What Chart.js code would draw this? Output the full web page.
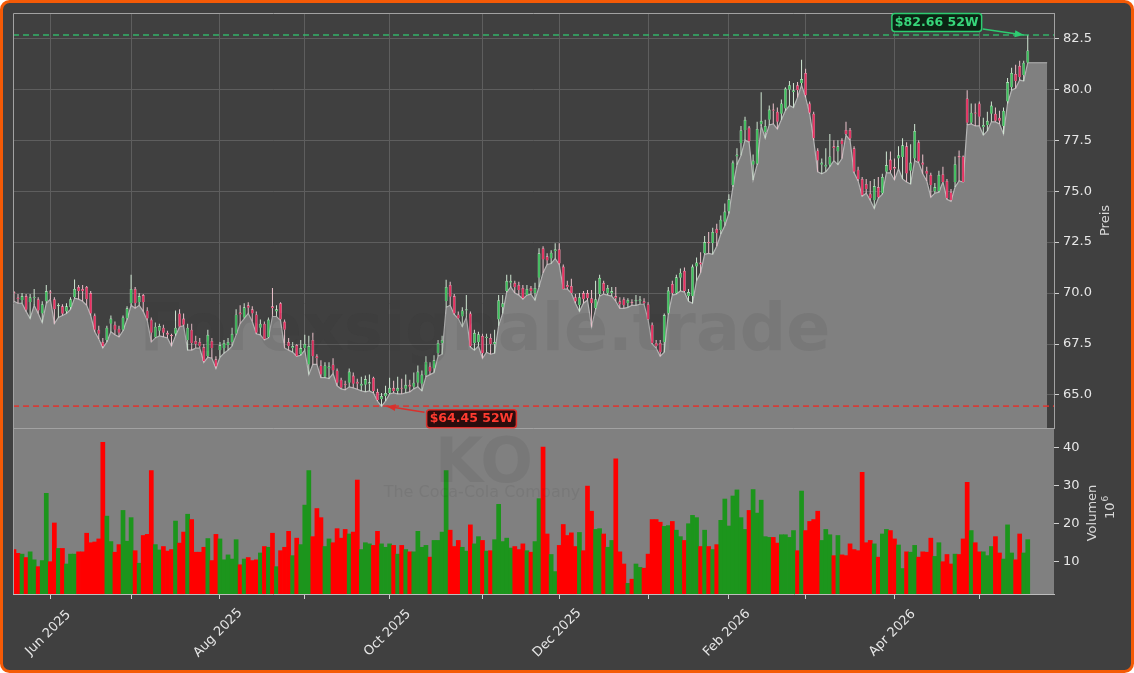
<!DOCTYPE html>
<html>
<head>
<meta charset="utf-8">
<script src="https://cdn.jsdelivr.net/npm/chart.js@4.4.1/dist/chart.umd.min.js"></script>
<style>
  html, body { margin: 0; padding: 0; background: #ffffff; }
  canvas { display: block; }
</style>
</head>
<body>
<canvas id="koChart" width="1134" height="673"></canvas>
<script>
// KO daily candles, trading-day index 0 = 19 May 2025 ... 251 = 19 May 2026
const opens = [
  70.05,69.78,69.66,69.85,69.55,69.76,69.70,69.00,69.60,70.05,69.70,69.35,69.35,69.10,69.30,69.80,70.30,70.20,70.30,70.00,
  68.90,68.20,67.60,67.70,68.50,68.45,68.25,68.20,68.75,69.50,70.20,69.55,69.90,69.15,68.70,67.85,68.15,68.30,68.05,67.90,
  68.00,69.00,68.75,67.70,68.20,67.65,67.60,67.35,66.90,67.65,66.75,67.20,67.30,67.45,67.60,68.00,69.05,68.80,69.40,69.20,
  68.95,68.30,68.50,67.85,69.35,69.10,69.50,68.60,67.60,67.30,67.45,67.00,67.30,66.50,67.70,66.90,66.45,65.90,66.30,66.50,
  66.20,65.75,65.50,65.60,65.95,65.65,65.45,65.50,65.55,65.85,65.15,64.80,64.95,65.10,65.35,65.20,65.35,65.30,65.50,65.40,
  65.60,65.55,65.98,66.40,66.30,67.05,67.55,69.60,70.40,69.85,68.95,68.85,69.15,69.00,67.55,67.60,67.90,67.80,67.80,67.50,
  68.70,69.30,70.10,70.50,70.50,70.40,70.25,69.90,70.25,70.00,70.75,72.20,71.80,71.70,72.05,72.15,71.30,70.40,70.35,69.80,
  69.42,70.00,70.00,69.75,69.25,69.95,70.50,70.00,70.00,69.85,69.60,69.70,69.50,69.55,69.60,69.60,69.60,69.45,68.45,67.55,
  67.55,67.60,69.00,70.45,70.00,70.75,71.10,69.85,69.85,71.30,71.50,71.95,72.50,72.45,73.15,73.10,73.50,74.00,75.30,76.70,
  77.35,78.00,78.12,76.30,76.35,78.30,77.90,78.50,79.00,78.90,78.80,79.05,79.98,79.85,80.20,80.30,80.80,79.30,78.80,77.00,
  76.30,76.20,76.30,77.20,76.95,77.50,78.00,78.00,77.10,76.05,75.60,75.35,74.88,74.55,75.20,74.90,75.95,76.55,76.18,76.60,
  76.68,77.20,76.00,76.60,77.40,76.40,76.00,75.80,75.00,75.00,75.83,75.50,74.95,75.45,76.72,76.70,79.55,78.35,78.85,79.30,
  78.15,78.25,78.80,78.80,78.60,78.20,79.40,80.10,80.75,81.15,80.70,81.30
];
const highs = [
  70.10,69.95,70.00,69.95,69.95,70.20,69.80,69.60,70.40,70.15,69.80,69.50,69.45,69.50,69.80,70.67,70.40,70.40,70.35,70.10,
  69.00,68.40,67.80,68.40,68.90,68.60,68.40,68.90,69.35,70.90,70.30,70.00,69.95,69.30,68.80,68.55,68.50,68.45,68.15,68.00,
  69.15,69.20,69.00,68.50,68.50,67.90,67.80,67.50,68.20,67.80,66.90,67.60,67.70,67.80,68.30,69.20,69.40,69.50,69.55,69.35,
  69.10,68.70,68.60,68.80,70.25,69.40,69.55,68.70,67.80,67.60,67.50,67.70,67.95,67.90,68.05,67.00,66.70,66.60,66.60,66.80,
  66.30,65.85,65.70,66.30,66.10,65.80,65.90,65.95,66.00,65.90,65.30,65.10,65.45,65.85,65.70,65.90,65.80,66.00,65.75,66.10,
  66.45,66.20,66.90,66.60,66.95,67.70,67.90,70.65,70.55,69.95,69.10,69.30,69.90,69.10,68.20,68.10,68.00,68.00,68.00,68.20,
  69.90,69.90,70.90,70.90,70.60,70.55,70.40,70.40,70.35,70.50,72.20,72.30,71.95,72.10,72.45,72.45,71.40,70.60,70.70,69.95,
  70.00,70.10,70.15,70.15,70.60,70.90,70.60,70.40,70.30,70.30,69.80,69.80,69.75,69.70,69.90,69.85,69.75,69.55,68.55,67.70,
  67.70,69.00,70.30,70.60,70.90,71.20,71.25,70.20,71.40,71.75,72.00,72.80,73.00,73.20,73.40,73.80,74.40,74.85,76.50,77.10,
  78.20,78.65,78.20,76.80,78.40,79.85,78.50,79.20,79.30,79.10,79.50,80.10,80.40,80.30,80.35,81.45,81.00,79.40,78.90,77.10,
  76.60,77.10,77.80,77.50,77.50,77.60,78.40,78.10,77.20,76.20,75.70,75.60,75.50,75.60,75.70,75.85,76.95,76.95,76.60,77.20,
  77.60,77.40,77.30,78.30,77.50,76.80,76.20,75.90,75.40,76.00,76.20,75.60,75.10,76.70,77.00,76.75,79.95,79.30,79.30,79.40,
  78.60,78.90,79.40,79.10,78.95,79.10,80.55,81.05,81.20,81.40,81.40,82.66
];
const lows = [
  69.60,69.50,69.50,69.10,68.75,69.40,69.00,68.55,69.50,69.70,68.50,68.80,68.90,69.00,69.20,69.75,69.70,69.60,69.40,68.90,
  68.10,67.75,67.30,67.60,68.10,67.95,67.85,68.15,68.70,69.40,69.25,69.40,69.10,68.65,67.60,67.80,67.90,67.85,67.80,67.40,
  67.90,68.35,68.40,67.20,67.20,67.30,67.30,66.60,66.85,66.80,66.30,66.85,67.05,67.20,67.40,67.95,68.50,68.75,69.00,68.60,
  68.00,67.95,67.70,67.80,68.85,68.85,68.65,67.30,67.20,67.10,66.90,66.95,67.20,66.00,66.50,66.50,65.85,65.85,65.80,66.05,
  65.45,65.30,65.25,65.40,65.35,65.28,65.20,65.15,65.20,65.10,64.70,64.45,64.70,65.05,65.10,65.05,65.05,65.10,65.15,65.30,
  65.40,65.20,65.90,66.00,66.10,66.90,67.00,69.30,69.40,68.95,68.75,68.35,68.80,67.35,67.20,67.40,66.80,67.10,67.00,67.05,
  68.40,69.00,70.05,70.30,70.00,69.90,69.70,69.90,69.95,69.65,70.30,71.00,71.40,71.45,71.70,71.40,70.20,70.20,70.00,69.50,
  69.10,69.50,69.65,68.35,69.20,69.85,69.95,69.90,69.85,69.60,69.25,69.25,69.30,69.40,69.40,69.45,69.45,68.68,67.50,67.30,
  66.90,67.10,68.95,69.90,69.95,70.10,70.05,69.60,69.50,70.60,71.00,71.90,71.95,71.90,72.30,72.90,73.30,73.90,75.20,76.30,
  76.75,77.50,77.40,75.55,76.30,78.20,77.60,78.25,78.30,78.05,78.50,78.95,79.20,79.10,79.60,80.20,79.60,78.80,77.50,75.95,
  75.85,75.95,76.20,76.50,76.30,76.60,77.75,77.50,75.90,75.50,74.75,74.90,74.55,74.15,74.65,74.85,75.90,75.90,75.55,76.10,
  75.60,75.45,75.35,76.50,76.40,75.85,75.50,74.70,74.90,74.95,75.45,74.60,74.50,75.20,75.50,75.45,78.25,78.30,78.20,78.20,
  77.75,77.95,78.40,78.40,78.30,77.80,79.30,79.95,80.05,80.45,80.40,81.30
];
const closes = [
  69.98,69.70,69.85,69.18,69.80,69.80,69.15,69.45,70.10,70.02,69.20,69.38,68.98,69.35,69.70,70.20,70.10,70.10,69.70,69.00,
  68.20,68.00,67.40,68.30,68.75,68.20,68.05,68.80,69.25,70.20,69.50,69.85,69.55,68.75,68.05,68.35,68.38,68.05,67.95,67.88,
  68.30,68.35,68.45,68.30,67.55,67.50,67.40,66.65,67.95,67.30,66.40,67.45,67.55,67.60,68.00,68.95,68.95,69.30,69.28,69.00,
  68.05,68.50,67.75,68.70,69.25,69.20,68.70,68.20,67.40,67.40,66.90,67.30,67.50,67.40,66.90,66.80,66.00,66.45,66.40,66.20,
  65.60,65.35,65.48,66.15,65.55,65.55,65.55,65.78,65.62,65.20,64.75,64.95,65.10,65.35,65.20,65.35,65.30,65.50,65.40,65.60,
  66.15,66.00,66.63,66.15,66.70,67.55,67.70,70.30,69.82,69.00,68.75,69.15,69.20,67.40,68.05,67.98,67.05,67.82,67.50,67.60,
  69.65,69.50,70.60,70.60,70.30,70.15,69.75,70.20,70.10,70.25,71.95,71.65,71.60,71.98,72.15,71.45,70.20,70.30,70.00,69.58,
  69.80,69.70,69.75,69.50,69.70,70.75,70.10,70.25,70.10,69.75,69.45,69.40,69.66,69.50,69.66,69.68,69.50,68.70,67.55,67.40,
  67.10,68.92,70.12,70.00,70.77,71.00,70.10,70.05,71.30,71.50,71.40,72.50,72.45,73.00,72.95,73.60,74.00,74.60,76.40,76.80,
  77.99,78.50,77.45,76.50,78.05,78.45,78.20,79.00,78.95,78.40,79.30,80.03,80.20,79.95,79.95,80.50,79.70,78.85,77.60,76.50,
  76.40,76.30,76.70,77.10,77.20,77.30,77.80,77.58,75.95,75.60,74.80,75.10,74.65,75.25,74.70,75.70,76.28,76.03,76.10,76.76,
  77.25,75.86,76.40,77.95,76.45,76.30,75.85,75.30,75.20,75.80,75.45,74.65,74.55,76.32,76.65,75.45,78.35,78.85,78.80,78.65,
  78.25,78.45,79.20,78.45,78.45,78.95,80.35,80.80,80.40,80.60,81.30,81.90
];
// volume in millions of shares
const volumes = [
  13.2,12.2,12.0,11.1,12.6,10.5,8.7,10.3,28.0,10.0,20.2,13.5,13.5,9.4,12.0,12.0,12.6,12.6,17.5,15.0,
  15.2,16.0,41.4,22.0,15.3,12.5,14.5,23.5,15.4,21.6,12.9,9.6,16.9,17.2,34.0,14.5,13.1,14.0,12.8,13.2,
  20.7,14.9,17.8,22.5,21.1,12.5,12.5,13.8,16.1,10.3,17.2,16.0,10.5,11.8,10.7,15.8,9.2,10.7,11.1,10.3,
  10.5,12.3,14.0,13.8,17.5,8.7,12.9,13.8,18.0,11.6,16.2,14.5,24.9,34.0,16.6,24.0,21.6,14.0,16.0,15.0,
  18.7,16.2,18.5,17.3,17.8,31.5,13.2,15.0,14.7,14.3,18.0,14.7,13.8,14.7,14.3,12.0,14.3,13.2,12.6,12.6,
  18.0,13.8,14.3,11.2,15.6,15.6,17.8,34.0,18.3,14.0,15.6,13.8,12.8,19.7,14.7,16.6,15.6,12.8,12.9,15.8,
  25.1,15.3,16.2,13.6,14.0,13.2,14.7,12.9,12.5,15.3,26.6,40.2,17.3,11.9,7.4,14.3,19.8,16.9,17.6,14.0,
  17.7,12.9,29.9,23.3,18.5,18.7,17.3,13.8,15.6,37.1,12.6,9.4,4.3,5.4,9.4,8.5,8.3,12.0,21.1,21.1,
  20.4,19.3,19.5,20.6,18.3,16.6,15.6,20.0,22.2,21.6,14.0,18.3,14.0,13.2,14.5,20.9,26.5,19.4,27.3,28.9,
  21.6,18.5,23.5,29.0,22.8,26.2,16.6,16.4,16.4,14.9,17.1,17.1,16.4,18.2,12.9,28.6,18.2,20.6,21.1,23.3,
  15.6,18.5,17.1,11.6,16.9,11.8,11.6,14.7,13.2,12.9,33.5,15.0,15.6,14.7,11.2,17.3,18.5,18.2,16.0,14.4,
  8.2,12.6,12.5,14.3,11.2,12.6,12.5,16.2,11.4,15.0,10.0,11.9,9.4,12.0,11.9,16.0,30.9,18.2,15.0,12.6,
  12.6,11.6,14.0,16.6,12.3,10.7,19.7,12.3,10.5,17.3,12.3,15.8
];

// month starts (trading-day index) and their labels
const tickPos = [9, 29, 51, 72, 93, 116, 135, 157, 177, 196, 218, 239];
const tickLabels = ['Jun 2025', '', 'Aug 2025', '', 'Oct 2025', '', 'Dec 2025', '', 'Feb 2026', '', 'Apr 2026', ''];
const priceTicks = [65, 67.5, 70, 72.5, 75, 77.5, 80, 82.5];
const volTicks = [10, 20, 30, 40];

const hi52 = 82.66, hi52Idx = 251;
const lo52 = 64.45, lo52Idx = 91;

const xMin = -0.24, xMax = 257.5, fillEnd = 255.8;

const up = closes.map((c, i) => c >= opens[i]);
const bodyData = opens.map((o, i) => ({x: i, y: [o, closes[i]]}));
const wickData = lows.map((l, i) => ({x: i, y: [l, highs[i]]}));
const volData = volumes.map((v, i) => ({x: i, y: v}));
const areaData = lows.map((l, i) => ({x: i, y: l}));
areaData.push({x: fillEnd, y: lows[lows.length - 1]});

const FONT = 'DejaVu Sans';

function vText(c, txt, x, y) {
    c.save();
    c.translate(x, y);
    c.rotate(-Math.PI / 2);
    c.fillText(txt, 0, 0);
    c.restore();
}

function drawTag(c, text, cx, cy, fg, bg, txt, fromX, fromY, toX, toY) {
    c.save();
    c.strokeStyle = fg;
    c.fillStyle = fg;
    c.lineWidth = 1.6;
    c.beginPath();
    c.moveTo(fromX, fromY);
    c.lineTo(toX, toY);
    c.stroke();
    const a = Math.atan2(toY - fromY, toX - fromX);
    c.beginPath();
    c.moveTo(toX, toY);
    c.lineTo(toX - 9 * Math.cos(a) + 3.5 * Math.sin(a), toY - 9 * Math.sin(a) - 3.5 * Math.cos(a));
    c.lineTo(toX - 9 * Math.cos(a) - 3.5 * Math.sin(a), toY - 9 * Math.sin(a) + 3.5 * Math.cos(a));
    c.closePath();
    c.fill();

    c.font = 'bold 12.5px "' + FONT + '"';
    const w = c.measureText(text).width + 6, h = 18;
    c.beginPath();
    c.roundRect(cx - w / 2, cy - h / 2, w, h, 3);
    c.fillStyle = bg;
    c.fill();
    c.lineWidth = 1.5;
    c.strokeStyle = fg;
    c.stroke();
    c.fillStyle = txt;
    c.textAlign = 'center';
    c.textBaseline = 'middle';
    c.fillText(text, cx, cy + 0.5);
    c.restore();
}

const decor = {
    id: 'decor',
    beforeDraw(chart) {
        const c = chart.ctx;
        c.save();
        c.fillStyle = '#ffffff';
        c.fillRect(0, 0, chart.width, chart.height);
        c.beginPath();
        c.roundRect(1.5, 1.5, chart.width - 3, chart.height - 3, 8);
        c.fillStyle = '#404040';
        c.fill();
        c.lineWidth = 3;
        c.strokeStyle = '#f45a06';
        c.stroke();
        c.restore();
    },
    beforeDatasetsDraw(chart) {
        const {ctx: c, chartArea: a, scales: {yv}} = chart;
        c.save();
        c.fillStyle = '#808080';
        c.fillRect(a.left, yv.top, a.right - a.left, yv.bottom - yv.top);
        c.restore();
    },
    afterDatasetsDraw(chart) {
        const {ctx: c, chartArea: a, scales: {y}} = chart;
        c.save();
        // watermarks
        c.fillStyle = 'rgba(40,40,40,0.09)';
        c.textAlign = 'center';
        c.textBaseline = 'alphabetic';
        c.font = 'bold 65px "' + FONT + '"';
        c.fillText('Forexsignale.trade', a.left + 472, 350);
        c.font = 'bold 62px "' + FONT + '"';
        c.fillText('KO', a.left + 471, 482);
        c.font = '16px "' + FONT + '"';
        c.fillText('The Coca-Cola Company', a.left + 469, 497);

        // panel frames
        c.strokeStyle = '#a2a2a2';
        c.lineWidth = 1;
        c.beginPath();
        c.moveTo(a.left + 0.5, a.bottom);
        c.lineTo(a.left + 0.5, y.top + 0.5);
        c.lineTo(a.right, y.top + 0.5);
        c.moveTo(a.left, y.bottom + 0.5);
        c.lineTo(a.right, y.bottom + 0.5);
        c.stroke();
        c.restore();
    },
    afterDraw(chart) {
        const {ctx: c, chartArea: a, scales: {x, y, yv}} = chart;
        c.save();
        c.fillStyle = '#e6e6e6';
        c.font = '13px "' + FONT + '"';
        c.textAlign = 'center';
        c.textBaseline = 'middle';
        tickPos.forEach((p, k) => {
            if (!tickLabels[k]) return;
            c.save();
            c.translate(x.getPixelForValue(p) - 2, a.bottom + 39);
            c.rotate(-Math.PI / 4);
            c.fillText(tickLabels[k], 0, 0);
            c.restore();
        });

        c.fillStyle = '#d8d8d8';
        vText(c, 'Preis', a.right + 52, (y.top + y.bottom) / 2);
        vText(c, 'Volumen', a.right + 39, (yv.top + yv.bottom) / 2 + 2);
        // offset text "10^6"
        c.textAlign = 'left';
        c.save();
        c.translate(a.right + 57, (yv.top + yv.bottom) / 2 + 8);
        c.rotate(-Math.PI / 2);
        c.fillText('10', 0, 0);
        const w10 = c.measureText('10').width;
        c.font = '9px "' + FONT + '"';
        c.fillText('6', w10 + 1, -5);
        c.restore();
        c.restore();

        const hx = x.getPixelForValue(hi52Idx) - 4, hy = y.getPixelForValue(hi52);
        drawTag(c, '$82.66 52W', hx - 87, hy - 12.5, '#2ecc71', '#0c2414', '#37d67a', hx - 41, hy - 6, hx, hy);
        const lx = x.getPixelForValue(lo52Idx) + 5, ly = y.getPixelForValue(lo52);
        drawTag(c, '$64.45 52W', lx + 85, ly + 12.5, '#d9302c', '#2b0d0d', '#ff3b30', lx + 38, ly + 6, lx, ly);
    }
};

const ctx = document.getElementById('koChart').getContext('2d');
const chart = new Chart(ctx, {
    type: 'bar',
    data: {
        datasets: [
            {
                type: 'line',
                label: 'Low',
                data: areaData,
                yAxisID: 'y',
                fill: 'start',
                backgroundColor: '#808080',
                borderColor: '#b4b4b4',
                borderWidth: 1.2,
                pointRadius: 0,
                tension: 0,
                order: 10
            },
            {
                type: 'line',
                label: '52W Hoch',
                data: [{x: xMin, y: hi52}, {x: xMax, y: hi52}],
                yAxisID: 'y',
                borderColor: 'rgba(46, 204, 113, 0.62)',
                borderWidth: 1.8,
                borderDash: [6, 4],
                pointRadius: 0,
                fill: false,
                order: 1
            },
            {
                type: 'line',
                label: '52W Tief',
                data: [{x: xMin, y: lo52}, {x: xMax, y: lo52}],
                yAxisID: 'y',
                borderColor: 'rgba(225, 50, 45, 0.85)',
                borderWidth: 1.8,
                borderDash: [6, 4],
                pointRadius: 0,
                fill: false,
                order: 1
            },
            {
                label: 'Docht',
                data: wickData,
                yAxisID: 'y',
                grouped: false,
                maxBarThickness: 1,
                backgroundColor: up.map(u => u ? '#cfe6d2' : '#edc3cd'),
                order: 4
            },
            {
                label: 'Kerze',
                data: bodyData,
                yAxisID: 'y',
                grouped: false,
                maxBarThickness: 3,
                minBarLength: 1.2,
                backgroundColor: up.map(u => u ? '#3cc35c' : '#ec2f62'),
                borderColor: up.map(u => u ? '#c4f0cc' : '#f7a9bc'),
                borderWidth: 0.6,
                order: 3
            },
            {
                label: 'Volumen',
                data: volData,
                yAxisID: 'yv',
                grouped: false,
                categoryPercentage: 1,
                barPercentage: 1,
                backgroundColor: up.map(u => u ? '#1c951c' : '#ff0000'),
                order: 5
            }
        ]
    },
    options: {
        responsive: false,
        animation: false,
        devicePixelRatio: 1,
        layout: {padding: {left: 13, top: 13, right: 0, bottom: 0}},
        plugins: {legend: {display: false}, tooltip: {enabled: false}},
        scales: {
            x: {
                type: 'linear',
                position: 'bottom',
                min: xMin,
                max: xMax,
                offset: false,
                afterBuildTicks: s => { s.ticks = tickPos.map(v => ({value: v})); },
                ticks: {display: false},
                grid: {offset: false, color: '#5e5e5e', tickColor: '#d0d0d0', tickLength: 5},
                border: {color: '#bdbdbd'},
                afterFit: s => { s.height = 79; s.paddingLeft = 0; s.paddingRight = 0; }
            },
            y: {
                type: 'linear',
                position: 'right',
                stack: 'panels',
                stackWeight: 2.5,
                min: 63.38,
                max: 83.74,
                afterBuildTicks: s => { s.ticks = priceTicks.map(v => ({value: v})); },
                ticks: {color: '#e6e6e6', font: {family: FONT, size: 13}, padding: 4, callback: v => v.toFixed(1)},
                grid: {color: '#5e5e5e', tickColor: '#d0d0d0', tickLength: 5},
                border: {color: '#a2a2a2'},
                afterFit: s => { s.width = 80; s.paddingTop = 0; s.paddingBottom = 0; }
            },
            yv: {
                type: 'linear',
                position: 'right',
                stack: 'panels',
                stackWeight: 1,
                min: 1.5,
                max: 45.2,
                afterBuildTicks: s => { s.ticks = volTicks.map(v => ({value: v})); },
                ticks: {color: '#e6e6e6', font: {family: FONT, size: 13}, padding: 4},
                grid: {drawOnChartArea: false, color: '#d0d0d0', tickColor: '#d0d0d0', tickLength: 5},
                border: {display: false},
                afterFit: s => { s.width = 80; s.paddingTop = 0; s.paddingBottom = 0; }
            }
        }
    },
    plugins: [decor]
});
</script>
</body>
</html>
